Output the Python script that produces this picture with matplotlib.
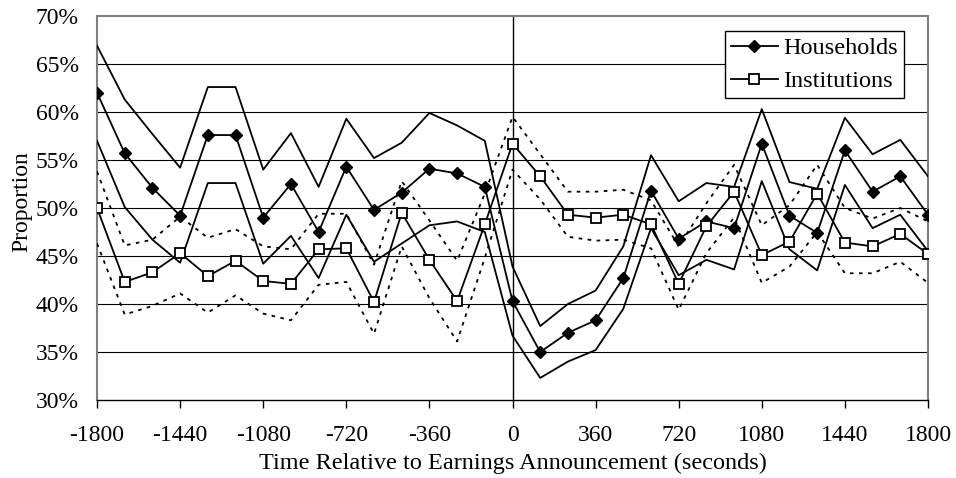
"""Households vs institutions: proportion around earnings announcements."""
import numpy as np
import matplotlib
matplotlib.use("Agg")
import matplotlib.pyplot as plt

plt.rcParams["font.family"] = ["Liberation Serif", "DejaVu Serif"]
plt.rcParams["axes.unicode_minus"] = False

# seconds relative to the announcement
TIME = [-1800, -1680, -1560, -1440, -1320, -1200, -1080, -960, -840, -720,
        -600, -480, -360, -240, -120, 0, 120, 240, 360, 480,
        600, 720, 840, 960, 1080, 1200, 1320, 1440, 1560, 1680, 1800]

# proportions in percent
HH_MEAN = [62.0, 55.7, 52.1, 49.2, 57.6, 57.6, 49.0, 52.5, 47.5, 54.3,
           49.8, 51.6, 54.1, 53.6, 52.2, 40.3, 35.0, 37.0, 38.3, 42.7,
           51.8, 46.8, 48.6, 47.9, 56.7, 49.2, 47.4, 56.0, 51.7, 53.3, 49.3]
HH_UPPER = [66.9, 61.3, 57.7, 54.2, 62.6, 62.6, 54.0, 57.8, 52.2, 59.3,
            55.2, 56.8, 59.9, 58.6, 57.0, 43.9, 37.7, 40.0, 41.4, 46.0,
            55.5, 50.7, 52.6, 52.2, 60.3, 52.7, 52.0, 59.4, 55.6, 57.1, 53.3]
HH_LOWER = [57.0, 50.1, 46.7, 44.3, 52.6, 52.6, 44.2, 47.1, 42.7, 49.3,
            44.4, 46.3, 48.2, 48.6, 47.5, 36.7, 32.3, 34.0, 35.2, 39.5,
            47.9, 43.0, 44.6, 43.6, 52.8, 45.7, 43.5, 52.4, 47.9, 49.3, 45.5]

INST_MEAN = [50.0, 42.3, 43.3, 45.3, 42.9, 44.5, 42.4, 42.1, 45.7, 45.8,
             40.2, 49.5, 44.6, 40.3, 48.3, 56.7, 53.3, 49.3, 49.0, 49.3,
             48.3, 42.1, 48.1, 51.7, 45.1, 46.5, 51.5, 46.4, 46.0, 47.3, 45.2]
INST_UPPER = [53.8, 46.1, 46.7, 49.1, 46.9, 47.8, 46.0, 45.7, 49.4, 49.4,
              44.1, 52.8, 48.7, 44.5, 51.5, 59.5, 55.6, 51.7, 51.7, 51.9,
              50.8, 46.0, 50.5, 54.5, 48.2, 50.3, 54.5, 50.0, 48.9, 50.0, 48.6]
INST_LOWER = [46.3, 38.9, 39.8, 41.1, 39.1, 40.9, 39.0, 38.3, 42.0, 42.3,
              36.9, 46.0, 40.6, 36.1, 44.8, 54.0, 50.9, 47.0, 46.6, 46.7,
              45.8, 39.4, 45.3, 49.0, 42.2, 43.9, 47.5, 43.2, 43.2, 44.4, 42.2]

XTICKS = [-1800, -1440, -1080, -720, -360, 0, 360, 720, 1080, 1440, 1800]
YTICKS = [30, 35, 40, 45, 50, 55, 60, 65, 70]

fig = plt.figure(figsize=(9.56, 4.78), dpi=100)
ax = fig.add_axes([0.1015, 0.1632, 0.8692, 0.8033])

t = np.array(TIME)
# gridlines
for yv in YTICKS[1:-1]:
    ax.axhline(yv, color="black", lw=0.8, zorder=1)
ax.axvline(0, color="black", lw=1.0, zorder=1)

# confidence bands
ax.plot(t, HH_UPPER, color="black", lw=1.3, zorder=3)
ax.plot(t, HH_LOWER, color="black", lw=1.3, zorder=3)
ax.plot(t, INST_UPPER, color="black", lw=1.3, ls=(0, (2, 3)), zorder=3)
ax.plot(t, INST_LOWER, color="black", lw=1.3, ls=(0, (2, 3)), zorder=3)

# means
ax.plot(t, HH_MEAN, color="black", lw=1.3, marker="D", ms=6,
        mfc="black", mec="black", label="Households", zorder=4)
ax.plot(t, INST_MEAN, color="black", lw=1.3, marker="s", ms=7.5,
        mfc="white", mec="black", mew=1.3, label="Institutions", zorder=5)

ax.set_xlim(-1800, 1800)
ax.set_ylim(30, 70)
ax.set_xticks(XTICKS)
ax.set_yticks(YTICKS)
ax.set_yticklabels([f"{v}%" for v in YTICKS])
ax.tick_params(axis="x", direction="out", length=6, width=1, labelsize=17, pad=12)
ax.tick_params(axis="y", length=0, labelsize=17, pad=13)

for side in ["left", "right", "top"]:
    ax.spines[side].set_color("#808080")
    ax.spines[side].set_linewidth(1.5)
ax.spines["bottom"].set_color("black")
ax.spines["bottom"].set_linewidth(1.0)

ax.set_xlabel("Time Relative to Earnings Announcement (seconds)", fontsize=17.5, labelpad=5)
ax.set_ylabel("Proportion", fontsize=17, labelpad=6)
ax.yaxis.set_label_coords(-0.078, 0.516)

leg = ax.legend(loc="upper right", bbox_to_anchor=(0.9715, 0.96), fontsize=17.5,
                frameon=True, fancybox=False, handlelength=1.9,
                borderpad=0.25, labelspacing=0.45, handletextpad=0.25,
                borderaxespad=0)
leg.get_frame().set_edgecolor("black")
leg.get_frame().set_linewidth(1.0)
leg.get_frame().set_alpha(1)

fig.savefig("out.png", dpi=100)
